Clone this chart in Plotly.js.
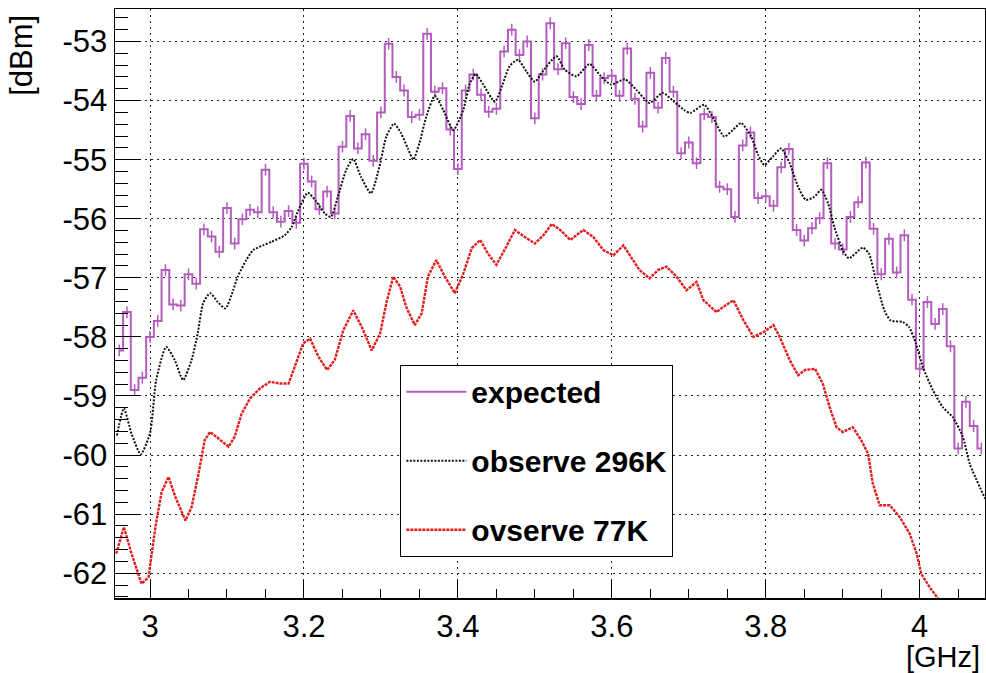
<!DOCTYPE html>
<html>
<head>
<meta charset="utf-8">
<script src="https://cdn.plot.ly/plotly-3.0.1.min.js"></script>
<style>html,body{margin:0;padding:0;background:#fff;}#chart{width:986px;height:673px;}</style>
</head>
<body>
<div id="chart"></div>
<script>
// ---- data ----
var binCenters = [2.96,2.97,2.98,2.99,3.00,3.01,3.02,3.03,3.04,3.05,3.06,3.07,3.08,3.09,3.10,3.11,3.12,3.13,3.14,3.15,3.16,3.17,3.18,3.19,3.20,3.21,3.22,3.23,3.24,3.25,3.26,3.27,3.28,3.29,3.30,3.31,3.32,3.33,3.34,3.35,3.36,3.37,3.38,3.39,3.40,3.41,3.42,3.43,3.44,3.45,3.46,3.47,3.48,3.49,3.50,3.51,3.52,3.53,3.54,3.55,3.56,3.57,3.58,3.59,3.60,3.61,3.62,3.63,3.64,3.65,3.66,3.67,3.68,3.69,3.70,3.71,3.72,3.73,3.74,3.75,3.76,3.77,3.78,3.79,3.80,3.81,3.82,3.83,3.84,3.85,3.86,3.87,3.88,3.89,3.90,3.91,3.92,3.93,3.94,3.95,3.96,3.97,3.98,3.99,4.00,4.01,4.02,4.03,4.04,4.05,4.06,4.07,4.08];
var expectedDbm = [-58.23,-57.58,-58.90,-58.69,-58.00,-57.73,-56.87,-57.45,-57.47,-56.94,-57.10,-56.18,-56.30,-56.56,-55.82,-56.42,-56.01,-55.85,-55.89,-55.17,-55.89,-56.05,-55.87,-56.07,-55.07,-55.37,-55.84,-55.54,-55.91,-54.78,-54.26,-54.81,-54.57,-55.02,-54.20,-53.04,-53.60,-53.83,-54.28,-54.24,-52.87,-53.85,-53.79,-54.49,-55.16,-53.83,-53.56,-53.90,-54.19,-54.14,-53.17,-52.80,-53.23,-53.00,-54.30,-53.56,-52.69,-53.47,-53.03,-53.94,-54.06,-53.06,-53.92,-53.62,-53.58,-53.92,-53.12,-53.97,-54.44,-53.53,-54.12,-53.28,-53.85,-54.89,-54.71,-55.06,-54.23,-54.28,-55.46,-55.50,-55.97,-54.76,-54.54,-55.65,-55.62,-55.78,-55.13,-54.82,-56.19,-56.37,-56.16,-55.99,-55.06,-56.42,-56.52,-55.97,-55.72,-55.05,-56.17,-56.94,-56.34,-56.91,-56.28,-57.37,-58.54,-57.41,-57.78,-57.53,-58.16,-59.89,-59.10,-59.51,-59.89];
var expectedErr = 0.1;

var obs296Freq = [2.957,2.966,2.976,2.988,3.000,3.008,3.021,3.032,3.043,3.054,3.062,3.069,3.078,3.088,3.098,3.108,3.114,3.125,3.134,3.147,3.158,3.175,3.184,3.192,3.205,3.216,3.227,3.235,3.244,3.255,3.264,3.274,3.287,3.298,3.307,3.317,3.326,3.335,3.342,3.350,3.359,3.370,3.381,3.394,3.407,3.415,3.423,3.433,3.448,3.458,3.467,3.478,3.489,3.500,3.510,3.528,3.539,3.554,3.571,3.586,3.599,3.617,3.632,3.649,3.666,3.681,3.694,3.702,3.720,3.733,3.746,3.757,3.768,3.781,3.790,3.798,3.809,3.820,3.831,3.842,3.852,3.863,3.872,3.881,3.889,3.900,3.908,3.926,3.934,3.943,3.954,3.962,3.978,3.986,3.995,4.004,4.017,4.030,4.043,4.056,4.065,4.085];
var obs296Dbm = [-59.67,-59.21,-59.64,-59.99,-59.63,-58.73,-58.17,-58.39,-58.73,-58.39,-57.94,-57.43,-57.26,-57.41,-57.52,-57.21,-56.98,-56.70,-56.53,-56.45,-56.39,-56.28,-56.14,-55.88,-55.56,-55.71,-55.91,-55.97,-55.63,-55.17,-54.99,-55.29,-55.57,-55.12,-54.61,-54.39,-54.55,-54.81,-55.00,-54.72,-54.27,-53.92,-54.16,-54.50,-54.16,-53.73,-53.55,-53.73,-54.02,-53.73,-53.42,-53.31,-53.51,-53.68,-53.51,-53.25,-53.48,-53.59,-53.38,-53.59,-53.73,-53.64,-53.82,-54.04,-53.87,-54.02,-54.16,-54.21,-54.07,-54.33,-54.61,-54.50,-54.38,-54.61,-54.92,-55.09,-54.95,-54.81,-55.06,-55.46,-55.68,-55.63,-55.51,-55.74,-56.14,-56.53,-56.67,-56.49,-56.59,-57.04,-57.55,-57.72,-57.75,-57.83,-58.11,-58.51,-58.90,-59.19,-59.36,-59.69,-60.15,-60.74];

var obs77Freq = [2.956,2.966,2.976,2.989,2.998,3.007,3.015,3.024,3.033,3.046,3.054,3.063,3.071,3.078,3.089,3.102,3.110,3.119,3.130,3.143,3.156,3.169,3.180,3.188,3.199,3.208,3.219,3.230,3.240,3.251,3.264,3.275,3.288,3.299,3.307,3.316,3.325,3.333,3.344,3.353,3.361,3.372,3.383,3.396,3.407,3.418,3.429,3.439,3.450,3.463,3.474,3.487,3.500,3.511,3.522,3.533,3.546,3.563,3.576,3.589,3.602,3.615,3.628,3.636,3.649,3.660,3.671,3.684,3.697,3.710,3.719,3.736,3.745,3.758,3.771,3.784,3.797,3.810,3.818,3.831,3.842,3.851,3.864,3.874,3.883,3.892,3.900,3.913,3.924,3.933,3.939,3.948,3.961,3.974,3.987,3.996,4.002,4.013,4.024,4.033,4.046];
var obs77Dbm = [-61.67,-61.22,-61.67,-62.18,-62.07,-61.22,-60.63,-60.37,-60.71,-61.11,-60.88,-60.32,-59.75,-59.61,-59.72,-59.86,-59.69,-59.30,-59.04,-58.87,-58.76,-58.79,-58.79,-58.51,-58.11,-58.03,-58.34,-58.56,-58.39,-57.89,-57.55,-57.83,-58.23,-57.94,-57.43,-56.98,-57.15,-57.50,-57.80,-57.60,-56.98,-56.70,-56.98,-57.26,-56.93,-56.50,-56.36,-56.59,-56.78,-56.47,-56.19,-56.31,-56.42,-56.28,-56.09,-56.19,-56.36,-56.19,-56.31,-56.53,-56.62,-56.45,-56.70,-56.87,-57.01,-56.87,-56.81,-56.98,-57.21,-57.07,-57.38,-57.58,-57.49,-57.38,-57.72,-58.00,-57.92,-57.80,-58.00,-58.39,-58.65,-58.56,-58.54,-58.79,-59.19,-59.53,-59.61,-59.53,-59.75,-59.98,-60.48,-60.85,-60.85,-61.05,-61.33,-61.67,-62.01,-62.24,-62.43,-62.70,-62.70];

var seriesNames = ['expected', 'observe 296K', 'ovserve 77K'];
var xTickVals = [3.0, 3.2, 3.4, 3.6, 3.8, 4.0];
var xTickText = ['3', '3.2', '3.4', '3.6', '3.8', '4'];
var yTickVals = [-62, -61, -60, -59, -58, -57, -56, -55, -54, -53];
var yTickText = ['-62', '-61', '-60', '-59', '-58', '-57', '-56', '-55', '-54', '-53'];

// ---- styles ----
var purple = 'rgb(178,92,190)';
var FONT = 'Liberation Sans, Arial, Helvetica, sans-serif';

var traces = [
  {
    x: binCenters, y: expectedDbm, name: seriesNames[0], legendgroup: 'a',
    type: 'scatter', mode: 'lines',
    line: {shape: 'hvh', color: purple, width: 2},
    error_y: {type: 'constant', value: expectedErr, width: 0, thickness: 1.5, color: purple}
  },
  {
    x: obs296Freq, y: obs296Dbm, name: seriesNames[1], legendgroup: 'b',
    type: 'scatter', mode: 'lines',
    line: {color: '#111', width: 2, dash: '2px,1.5px', shape: 'spline', smoothing: 0.6}
  },
  {
    x: obs77Freq, y: obs77Dbm, name: seriesNames[2], legendgroup: 'c',
    type: 'scatter', mode: 'lines',
    line: {color: 'rgb(225,30,30)', width: 2.4, dash: '3px,1px'}
  }
];

var gridDash = '2px,4px';
var layout = {
  width: 986, height: 673,
  margin: {l: 115, r: 1, t: 9, b: 75, pad: 0},
  paper_bgcolor: '#fff', plot_bgcolor: '#fff',
  font: {family: FONT, color: '#000'},
  showlegend: true,
  legend: {
    x: 0.328, y: 0.396, xanchor: 'left', yanchor: 'top',
    bgcolor: '#fff', bordercolor: '#000', borderwidth: 1,
    font: {family: FONT, size: 30, color: '#000', weight: 'bold'},
    itemwidth: 60, tracegroupgap: 27
  },
  xaxis: {
    range: [2.9545, 4.0848],
    tickvals: xTickVals, ticktext: xTickText,
    ticks: 'inside', ticklen: 18, tickwidth: 1, tickcolor: '#000',
    minor: {dtick: 0.05, tick0: 3, ticks: 'inside', ticklen: 9, tickwidth: 1, tickcolor: '#000', showgrid: false},
    showgrid: true, gridcolor: '#222', gridwidth: 1, griddash: gridDash,
    showline: true, linecolor: '#000', linewidth: 1.5, mirror: true,
    zeroline: false,
    tickfont: {family: FONT, size: 31, color: '#000'}
  },
  yaxis: {
    range: [-62.42, -52.45],
    tickvals: yTickVals, ticktext: yTickText,
    ticks: 'inside', ticklen: 26, tickwidth: 1, tickcolor: '#000',
    minor: {dtick: 0.2, tick0: -53, ticks: 'inside', ticklen: 13, tickwidth: 1, tickcolor: '#000', showgrid: false},
    showgrid: true, gridcolor: '#222', gridwidth: 1, griddash: gridDash,
    showline: true, linecolor: '#000', linewidth: 1.5, mirror: true,
    zeroline: false,
    tickfont: {family: FONT, size: 31, color: '#000'}
  },
  annotations: [
    {text: '[dBm]', xref: 'paper', yref: 'paper', x: -0.107, y: 0.922,
     xanchor: 'center', yanchor: 'middle', textangle: -90, showarrow: false,
     font: {family: FONT, size: 31, color: '#000'}},
    {text: '[GHz]', xref: 'paper', yref: 'paper', x: 0.997, y: -0.1,
     xanchor: 'right', yanchor: 'middle', showarrow: false,
     font: {family: FONT, size: 29, color: '#000'}}
  ]
};

Plotly.newPlot('chart', traces, layout, {displayModeBar: false, staticPlot: true});
</script>
</body>
</html>
